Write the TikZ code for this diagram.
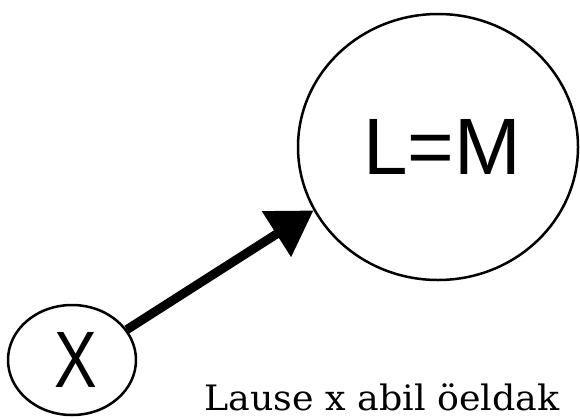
\documentclass[tikz,border=0pt]{standalone}
\usepackage{fontspec}
\setsansfont{Liberation Sans}
\newfontfamily\capfont{DejaVu Serif}
\usetikzlibrary{positioning,shapes.geometric,arrows.meta}

\begin{document}
\begin{tikzpicture}[x=1pt, y=-1pt, >={Triangle[length=44pt,width=52pt]},
  every bubble/.style={ellipse, draw, line width=2.5pt, inner sep=0pt,
    font=\sffamily\fontsize{80}{80}\selectfont},
  big bubble/.style={minimum width=280pt, minimum height=266pt},
  small bubble/.style={minimum width=128pt, minimum height=110pt}]

\useasboundingbox (0,0) rectangle (580,418);

\node [every bubble, big bubble] (lm) at (438,147) {\hspace{8pt}L=M};
\node [every bubble, small bubble] (x) at (72,360) {\hspace{8pt}\scalebox{0.8}[1]{X}};

\draw [->, line width=9pt] (x.29) -- (lm.207);

\node [anchor=base west, inner sep=0pt, font=\capfont\fontsize{35}{35}\selectfont]
  (caption) at (204,410) {\scalebox{1.04}[1]{Lause x abil öeldak}};

\end{tikzpicture}
\end{document}
